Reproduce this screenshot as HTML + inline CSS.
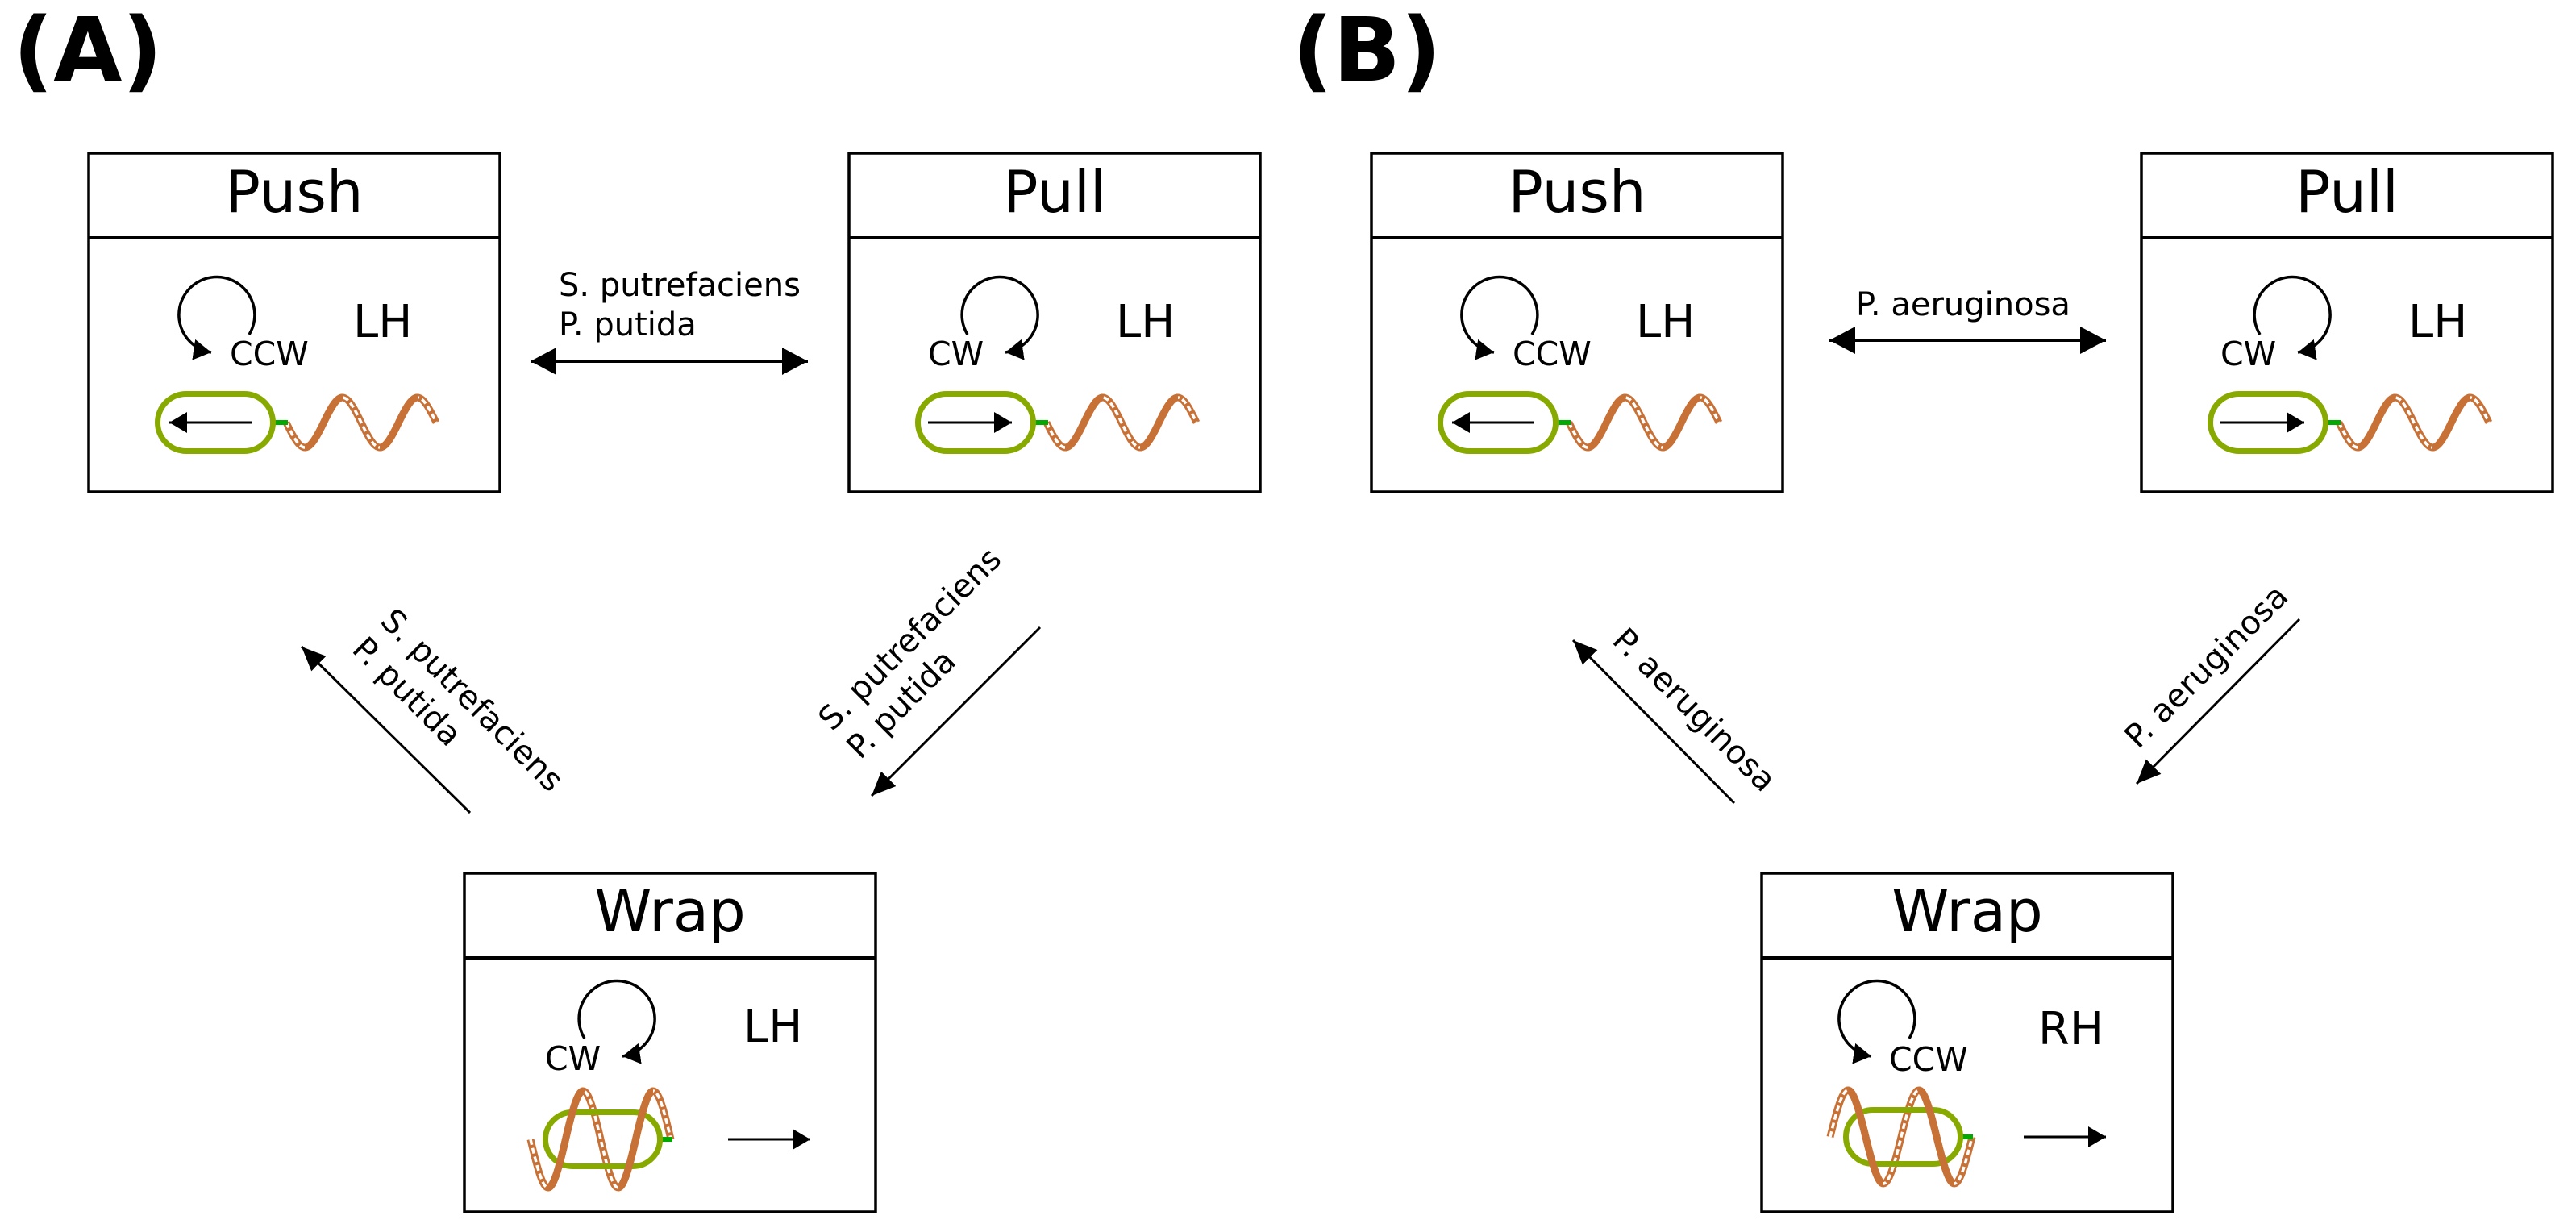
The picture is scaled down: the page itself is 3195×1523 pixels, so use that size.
<!DOCTYPE html>
<html><head><meta charset="utf-8"><style>
html,body{margin:0;padding:0;background:#fff}
svg{display:block}
text{font-family:"DejaVu Sans","Liberation Sans",sans-serif;fill:#000}
</style></head><body>
<svg width="3195" height="1523" viewBox="0 0 3195 1523" xmlns="http://www.w3.org/2000/svg">
<defs>
<marker id="ah" markerUnits="userSpaceOnUse" markerWidth="32" markerHeight="28" refX="30" refY="13" orient="auto-start-reverse"><path d="M0,0 L30,13 L0,26 z" fill="#000"/></marker>
<marker id="ah2" markerUnits="userSpaceOnUse" markerWidth="34" markerHeight="36" refX="32" refY="17" orient="auto-start-reverse"><path d="M0,0 L32,17 L0,34 z" fill="#000"/></marker>
<marker id="sm" markerUnits="userSpaceOnUse" markerWidth="24" markerHeight="28" refX="22" refY="13" orient="auto"><path d="M0,0 L22,13 L0,26 z" fill="#000"/></marker>
<clipPath id="cpFlag"><rect x="268" y="250" width="47" height="170"/><rect x="361" y="250" width="47" height="170"/></clipPath>
<clipPath id="cpWA"><rect x="104" y="230" width="43" height="200"/><rect x="191" y="230" width="43" height="200"/></clipPath>
<clipPath id="cpWB"><rect x="107" y="230" width="44" height="200"/><rect x="195" y="230" width="44" height="200"/></clipPath>
<path id="flag" d="M245,334 c19.7,41.3 26.8,41.3 46.5,0 c19.7,-41.3 26.8,-41.3 46.5,0 c19.7,41.3 26.8,41.3 46.5,0 c19.7,-41.3 26.8,-41.3 46.5,0"/>
<path id="flagWA" d="M82,330 c18.4,80 25.1,80 43.5,0 c18.4,-80 25.1,-80 43.5,0 c18.4,80 25.1,80 43.5,0 c18.4,-80 25.1,-80 43.5,0"/>
<path id="flagWB" d="M85,327 c18.7,-77.3 25.3,-77.3 44,0 c18.7,77.3 25.3,77.3 44,0 c18.7,-77.3 25.3,-77.3 44,0 c18.7,77.3 25.3,77.3 44,0"/>
<g id="ccw"><path d="M199,225 A47,47 0 1 0 152,247" fill="none" stroke="#000" stroke-width="3.5" marker-end="url(#sm)"/></g>
<g id="cw"><path d="M147,225 A47,47 0 1 1 194,247" fill="none" stroke="#000" stroke-width="3.5" marker-end="url(#sm)"/></g>
<g id="boxframe"><rect x="0" y="0" width="510" height="420" fill="#fff" stroke="#000" stroke-width="3.5"/><line x1="0" y1="105" x2="510" y2="105" stroke="#000" stroke-width="4"/></g>
<g id="flagfull">
<use href="#flag" fill="none" stroke="#c87137" stroke-width="9"/>
<use href="#flag" fill="none" stroke="#fff" stroke-width="3.5" stroke-dasharray="7 4"/>
<use href="#flag" fill="none" stroke="#c87137" stroke-width="9" clip-path="url(#cpFlag)"/>
</g>
<g id="cellbase"><line x1="230" y1="334" x2="247" y2="334" stroke="#00aa00" stroke-width="6"/><rect x="85.5" y="298.5" width="143" height="71" rx="35.5" fill="none" stroke="#88aa00" stroke-width="7"/></g>
</defs>

<text x="16" y="100" font-size="110" font-weight="bold">(A)</text>
<text x="1603" y="100" font-size="110" font-weight="bold">(B)</text>

<!-- A Push -->
<g transform="translate(110,190)">
<use href="#boxframe"/>
<text x="255" y="73" font-size="72" text-anchor="middle">Push</text>
<use href="#ccw"/>
<text x="175" y="263" font-size="41">CCW</text>
<text x="328" y="228" font-size="56">LH</text>
<use href="#flagfull"/><use href="#cellbase"/>
<line x1="202" y1="334" x2="100" y2="334" stroke="#000" stroke-width="3" marker-end="url(#sm)"/>
</g>
<!-- A Pull -->
<g transform="translate(1053,190)">
<use href="#boxframe"/>
<text x="255" y="73" font-size="72" text-anchor="middle">Pull</text>
<use href="#cw"/>
<text x="98" y="263" font-size="41">CW</text>
<text x="331" y="228" font-size="56">LH</text>
<use href="#flagfull"/><use href="#cellbase"/>
<line x1="98" y1="334" x2="202" y2="334" stroke="#000" stroke-width="3" marker-end="url(#sm)"/>
</g>
<!-- A Wrap -->
<g transform="translate(576,1083)">
<use href="#boxframe"/>
<text x="255" y="72" font-size="72" text-anchor="middle">Wrap</text>
<g transform="translate(2,-20)"><use href="#cw"/></g>
<text x="100" y="244" font-size="41">CW</text>
<text x="346" y="209" font-size="56">LH</text>
<use href="#flagWA" fill="none" stroke="#c87137" stroke-width="9"/>
<use href="#flagWA" fill="none" stroke="#fff" stroke-width="3.5" stroke-dasharray="7 4"/>
<line x1="243" y1="330" x2="258" y2="330" stroke="#00aa00" stroke-width="6"/>
<rect x="100.5" y="296.5" width="142" height="67" rx="33.5" fill="none" stroke="#88aa00" stroke-width="7"/>
<use href="#flagWA" fill="none" stroke="#c87137" stroke-width="9" clip-path="url(#cpWA)"/>
<line x1="327" y1="330" x2="429" y2="330" stroke="#000" stroke-width="3" marker-end="url(#sm)"/>
</g>

<!-- B Push -->
<g transform="translate(1701,190)">
<use href="#boxframe"/>
<text x="255" y="73" font-size="72" text-anchor="middle">Push</text>
<use href="#ccw"/>
<text x="175" y="263" font-size="41">CCW</text>
<text x="328" y="228" font-size="56">LH</text>
<use href="#flagfull"/><use href="#cellbase"/>
<line x1="202" y1="334" x2="100" y2="334" stroke="#000" stroke-width="3" marker-end="url(#sm)"/>
</g>
<!-- B Pull -->
<g transform="translate(2656,190)">
<use href="#boxframe"/>
<text x="255" y="73" font-size="72" text-anchor="middle">Pull</text>
<use href="#cw"/>
<text x="98" y="263" font-size="41">CW</text>
<text x="331" y="228" font-size="56">LH</text>
<use href="#flagfull"/><use href="#cellbase"/>
<line x1="98" y1="334" x2="202" y2="334" stroke="#000" stroke-width="3" marker-end="url(#sm)"/>
</g>
<!-- B Wrap -->
<g transform="translate(2185,1083)">
<use href="#boxframe"/>
<text x="255" y="72" font-size="72" text-anchor="middle">Wrap</text>
<g transform="translate(-16,-20)"><use href="#ccw"/></g>
<text x="158" y="245" font-size="41">CCW</text>
<text x="343" y="212" font-size="56">RH</text>
<use href="#flagWB" fill="none" stroke="#c87137" stroke-width="9"/>
<use href="#flagWB" fill="none" stroke="#fff" stroke-width="3.5" stroke-dasharray="7 4"/>
<line x1="247" y1="327" x2="262" y2="327" stroke="#00aa00" stroke-width="6"/>
<rect x="104.5" y="293.5" width="142" height="67" rx="33.5" fill="none" stroke="#88aa00" stroke-width="7"/>
<use href="#flagWB" fill="none" stroke="#c87137" stroke-width="9" clip-path="url(#cpWB)"/>
<line x1="325" y1="327" x2="427" y2="327" stroke="#000" stroke-width="3" marker-end="url(#sm)"/>
</g>

<!-- A connectors -->
<line x1="658" y1="448" x2="1002" y2="448" stroke="#000" stroke-width="4" marker-start="url(#ah2)" marker-end="url(#ah2)"/>
<text x="693" y="367" font-size="40">S. putrefaciens</text>
<text x="693" y="416" font-size="40">P. putida</text>
<line x1="583" y1="1008" x2="374" y2="802" stroke="#000" stroke-width="3" marker-end="url(#ah)"/>
<text transform="translate(470,772) rotate(45)" font-size="40">S. putrefaciens</text>
<text transform="translate(435,807) rotate(45)" font-size="40">P. putida</text>
<line x1="1290" y1="778" x2="1081" y2="987" stroke="#000" stroke-width="3" marker-end="url(#ah)"/>
<text transform="translate(1032,908) rotate(-45)" font-size="40">S. putrefaciens</text>
<text transform="translate(1067,943) rotate(-45)" font-size="40">P. putida</text>

<!-- B connectors -->
<line x1="2269" y1="422" x2="2612" y2="422" stroke="#000" stroke-width="4" marker-start="url(#ah2)" marker-end="url(#ah2)"/>
<text x="2302" y="391" font-size="40">P. aeruginosa</text>
<line x1="2151" y1="996" x2="1951" y2="794" stroke="#000" stroke-width="3" marker-end="url(#ah)"/>
<text transform="translate(2092,890) rotate(45)" font-size="40" text-anchor="middle">P. aeruginosa</text>
<line x1="2852" y1="768" x2="2650" y2="972" stroke="#000" stroke-width="3" marker-end="url(#ah)"/>
<text transform="translate(2746,836) rotate(-45)" font-size="40" text-anchor="middle">P. aeruginosa</text>
</svg>
</body></html>
